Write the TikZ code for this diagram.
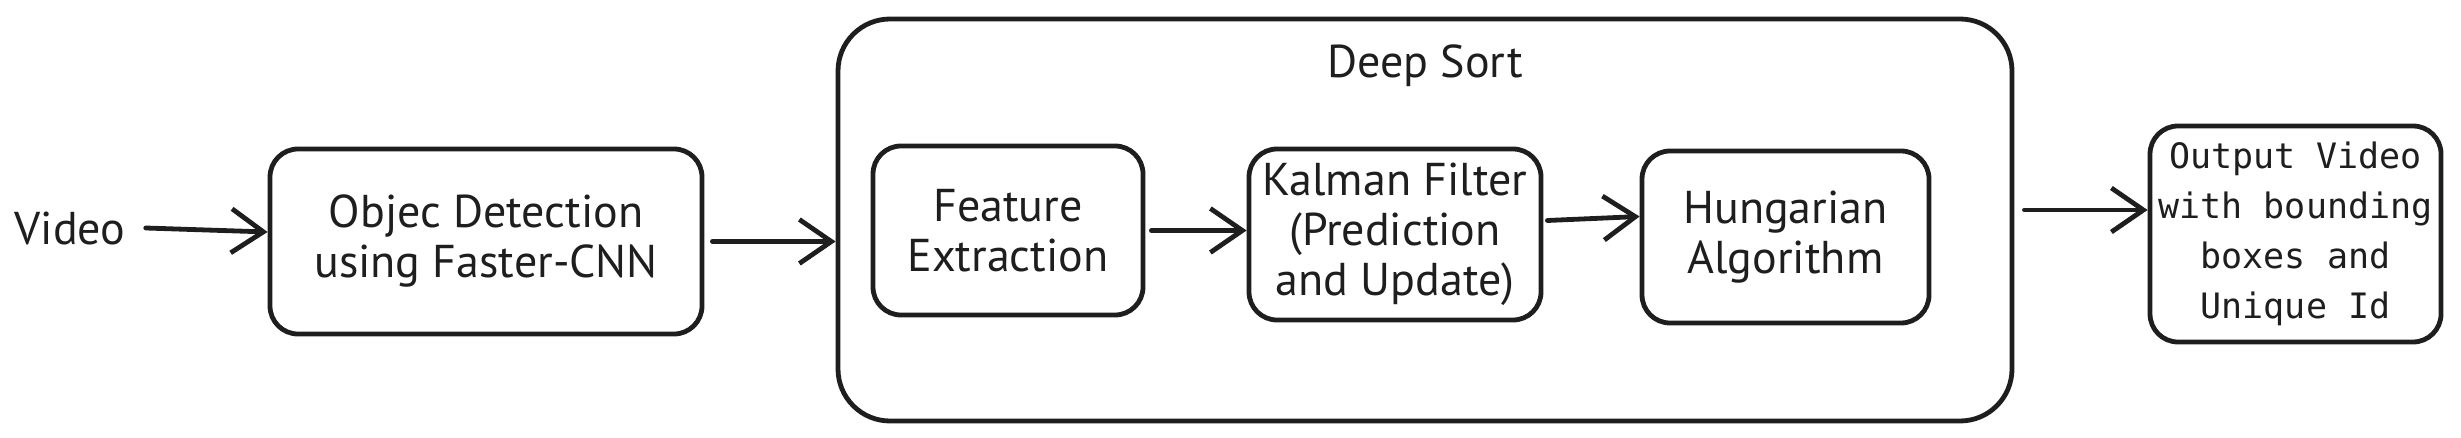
\documentclass[tikz,border=0pt]{standalone}
\usepackage{fontspec}
\setmainfont{PT Sans}
\setmonofont{DejaVu Sans Mono}
\usetikzlibrary{arrows.meta,calc}
\definecolor{ink}{HTML}{1E1E1E}
\begin{document}
\begin{tikzpicture}[x=0.5pt,y=-0.5pt,line cap=round,line join=round,
  box/.style={draw=ink, line width=2.4pt, rounded corners=14pt, align=center,
    font=\fontsize{23}{25}\selectfont, inner sep=0pt, text=ink},
  bigbox/.style={draw=ink, line width=2.4pt, rounded corners=26pt, inner sep=0pt},
  lbl/.style={font=\fontsize{23}{25}\selectfont, text=ink, inner sep=0pt},
  arr/.style={draw=ink, line width=2.4pt, -{Straight Barb[length=16pt,width=22pt,line width=2.4pt]}}]
\useasboundingbox (0,0) rectangle (2461,438);
% outer container
\node[bigbox, minimum width=587pt, minimum height=201pt] (ds) at (1425,220) {};
\node[lbl] (dslbl) at (1425,66) {Deep Sort};
% nodes
\node[lbl] (video) at (70,228) {Video};
\node[box, minimum width=216pt, minimum height=92.5pt] (obj) at (486,241.5) {Objec Detection\\using Faster-CNN};
\node[box, minimum width=135pt, minimum height=84.5pt] (fe) at (1008,230.5) {Feature\\Extraction};
\node[box, minimum width=146pt, minimum height=85.5pt] (kf) at (1395,234.5) {Kalman Filter\\(Prediction\\and Update)};
\node[box, minimum width=143.5pt, minimum height=86pt] (ha) at (1785.5,237) {Hungarian\\Algorithm};
\node[box, minimum width=145.5pt, minimum height=108pt, font=\ttfamily\fontsize{17.5}{25}\selectfont] (out) at (2295.5,234) {Output Video\\with bounding\\boxes and\\Unique Id};
% connectors
\draw[arr] ([xshift=10pt]video.east) -- ([yshift=-2pt]video.east -| obj.west);
\draw[arr] ([xshift=4pt]obj.east) -- (obj.east -| ds.west);
\draw[arr] ([xshift=3pt]fe.east) -- (fe.east -| kf.west);
\draw[arr] ([xshift=2pt,yshift=7pt]kf.east) -- ([yshift=9pt]kf.east -| ha.west);
\draw[arr] ([xshift=5pt,yshift=5pt]ds.east) -- ([yshift=5pt]ds.east -| out.west);
\end{tikzpicture}
\end{document}
